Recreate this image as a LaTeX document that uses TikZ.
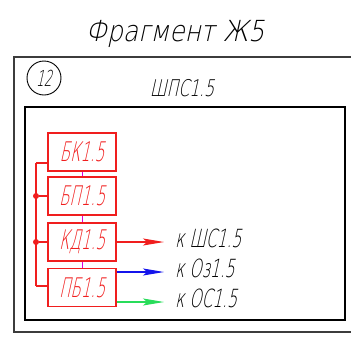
\documentclass[tikz,border=0pt]{standalone}
\usepackage{fontspec}
\usetikzlibrary{arrows.meta}
\newfontfamily\gostN[FakeSlant=0.22,FakeStretch=0.56]{DejaVu Sans ExtraLight}
\newfontfamily\gostL[FakeSlant=0.22,FakeStretch=0.62]{DejaVu Sans ExtraLight}
\newfontfamily\gostM[FakeSlant=0.22,FakeStretch=0.68]{DejaVu Sans ExtraLight}
\newfontfamily\gostT[FakeSlant=0.22,FakeStretch=0.86]{DejaVu Sans ExtraLight}
\definecolor{cred}{RGB}{240,30,30}
\definecolor{cblue}{RGB}{20,20,235}
\definecolor{cgreen}{RGB}{40,220,90}
\definecolor{cmag}{RGB}{220,0,220}
\definecolor{cgray}{RGB}{60,60,60}
\tikzset{
  blockbox/.style={draw=cred, line width=1.2pt, minimum width=68pt, minimum height=38pt,
    inner sep=0pt, text=cred, font=\gostN\fontsize{27}{27}\selectfont},
  busline/.style={cred, line width=1.2pt},
  linkline/.style={cmag, line width=1pt},
  outarrow/.style={line width=1.2pt, -{Stealth[length=21pt,width=7pt,inset=4pt]}},
  outlabel/.style={anchor=west, inner sep=0pt, font=\gostL\fontsize{25}{25}\selectfont},
  dotmark/.style={circle, fill=cred, inner sep=0pt, minimum size=6pt}
}
\begin{document}
\begin{tikzpicture}[x=1pt,y=-1pt]
\useasboundingbox (0,0) rectangle (351,338);
\node (title) at (175,34) {\gostT\fontsize{29}{29}\selectfont Фрагмент Ж5};
\draw[cgray, line width=1.8pt] (14,57) rectangle (360,332);
\draw[black, line width=1.3pt] (25,107) rectangle (345,320);
\node[draw, circle, line width=0.9pt, minimum size=34pt, inner sep=0pt,
  font=\gostN\fontsize{22}{22}\selectfont] (num) at (44,78) {12};
\node (shps) at (182,88) {\gostM\fontsize{23}{23}\selectfont ШПС1.5};
\node[blockbox] (bk) at (82,152) {БК1.5};
\node[blockbox] (bp) at (82,196) {БП1.5};
\node[blockbox] (kd) at (82,242) {КД1.5};
\node[blockbox] (pb) at (82,287.5) {ПБ1.5};
\draw[linkline] (bk.south) -- (bp.north);
\draw[linkline] (bp.south) -- (kd.north);
\draw[linkline] (kd.south) -- (pb.north);
\coordinate (t1) at (36,163);
\coordinate (t4) at (36,286);
\node[dotmark] (d2) at (36,196) {};
\node[dotmark] (d3) at (36,242) {};
\draw[busline] (t1) -- (t4);
\draw[busline] (t1) -- (t1 -| bk.west);
\draw[busline] (d2) -- (bp.west);
\draw[busline] (d3) -- (kd.west);
\draw[busline] (t4) -- (t4 -| pb.west);
\coordinate (a1) at (164,242);
\coordinate (a2) at (164,272);
\coordinate (a3) at (164,302);
\node[outlabel] (l1) at (175,238) {к ШС1.5};
\node[outlabel] (l2) at (175,268) {к Оз1.5};
\node[outlabel] (l3) at (175,298) {к ОС1.5};
\draw[outarrow, cred] (kd.east) -- (a1);
\draw[outarrow, cblue] (a2 -| pb.east) -- (a2);
\draw[outarrow, cgreen] (a3 -| pb.east) -- (a3);
\end{tikzpicture}
\end{document}
